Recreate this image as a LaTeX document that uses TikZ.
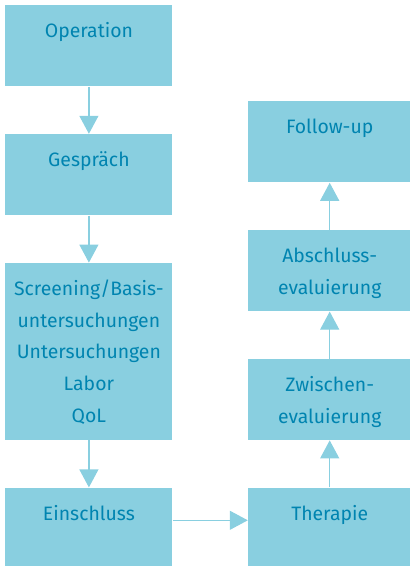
\documentclass[tikz,border=0pt]{standalone}
\usepackage{fontspec}
\setmainfont{Fira Sans}
\usepackage{tikz}
\usetikzlibrary{arrows.meta, positioning}
\definecolor{stageblue}{RGB}{137, 207, 224}
\definecolor{labelblue}{RGB}{0, 132, 176}

\begin{document}
\begin{tikzpicture}[
    node distance=23.5pt,
    stage/.style={rectangle, fill=stageblue, inner sep=0pt,
                  minimum width=83.5pt, align=center,
                  text=labelblue, font=\fontsize{9.7}{15.85}\selectfont,
                  text height=16.25pt, text depth=24.25pt},
    twoline/.style={text height=32.1pt, text depth=8.4pt},
    arrow/.style={-{Triangle[width=9.5pt, length=9pt]}, draw=stageblue,
                  line width=0.6pt}
]
\useasboundingbox (0,0) rectangle (205pt,-283pt);

% Left column
\node[stage, anchor=north west] (op) at (2.5pt,-2.5pt) {Operation};
\node[stage, below=of op] (talk) {Gespräch};
\node[stage, below=of talk, text height=79.65pt, text depth=8.85pt] (screen)
    {Screening/Basis-\\untersuchungen\\Untersuchungen\\Labor\\QoL};
\node[stage, below=of screen] (incl) {Einschluss};

% Right column
\node[stage, minimum width=81.5pt, right=37.5pt of incl] (ther) {Therapie};
\node[stage, twoline, minimum width=81.5pt, above=of ther] (interim) {Zwischen-\\evaluierung};
\node[stage, twoline, minimum width=81.5pt, above=of interim] (final) {Abschluss-\\evaluierung};
\node[stage, minimum width=81.5pt, above=of final] (follow) {Follow-up};

% Arrows
\draw[arrow] (op) -- (talk);
\draw[arrow] (talk) -- (screen);
\draw[arrow] (screen) -- (incl);
\draw[arrow] (incl.base east) -- (ther.base west);
\draw[arrow] (ther) -- (interim);
\draw[arrow] (interim) -- (final);
\draw[arrow] (final) -- (follow);

\end{tikzpicture}
\end{document}
